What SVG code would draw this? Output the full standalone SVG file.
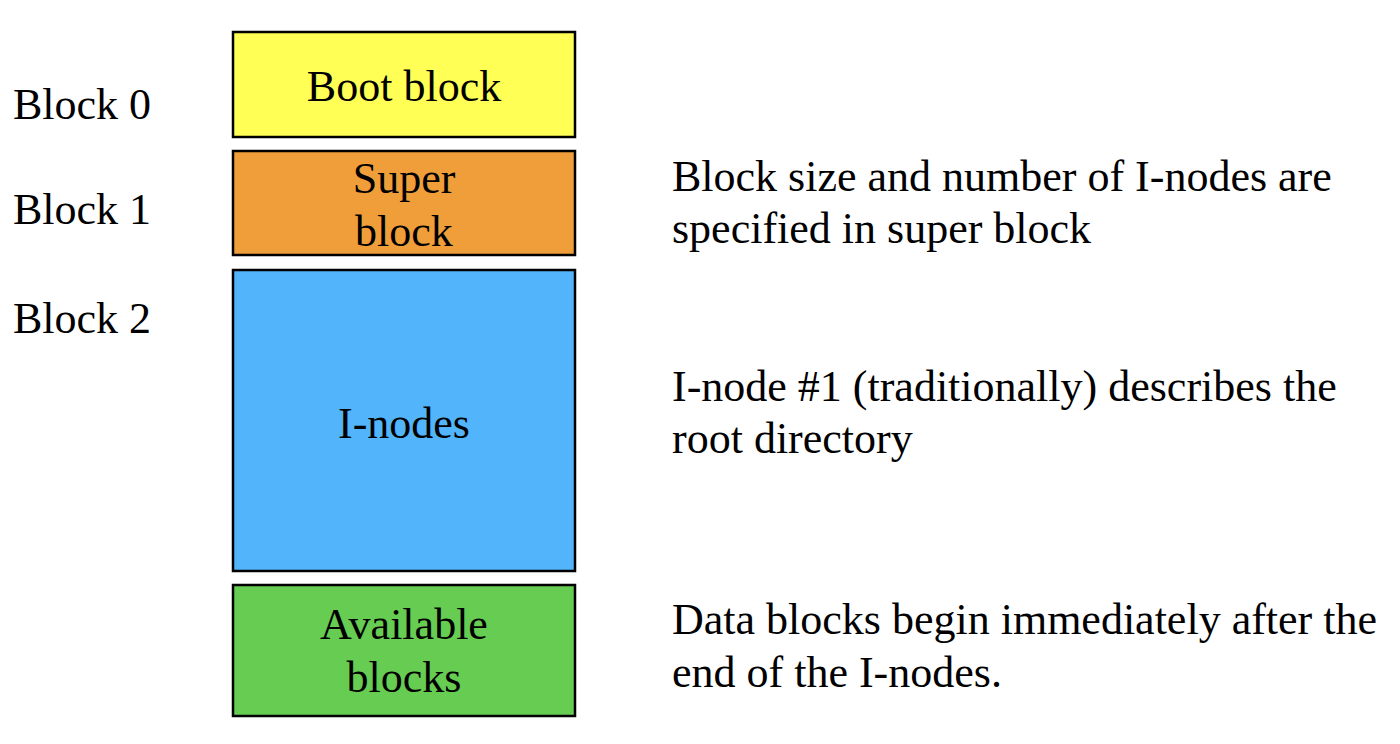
<svg xmlns="http://www.w3.org/2000/svg" width="1400" height="744" viewBox="0 0 1400 744">
<style>
text{font-family:"Liberation Serif","Times New Roman",serif;font-size:44px;fill:#000}
.box{stroke:#000;stroke-width:2.5}
.c{text-anchor:middle}
</style>
<rect width="1400" height="744" fill="#fff"/>
<g id="labels">
<text x="13" y="119">Block 0</text>
<text x="13" y="224">Block 1</text>
<text x="13" y="333">Block 2</text>
</g>
<g id="boot">
<rect class="box" x="233" y="32" width="342" height="105" fill="#FFFF55"/>
<text class="c" x="404" y="101">Boot block</text>
</g>
<g id="super">
<rect class="box" x="233" y="151" width="342" height="104" fill="#F09E3A"/>
<text class="c" x="404" y="193">Super</text>
<text class="c" x="404" y="246">block</text>
</g>
<g id="inodes">
<rect class="box" x="233" y="270" width="342" height="301" fill="#52B4FA"/>
<text class="c" x="404" y="438">I-nodes</text>
</g>
<g id="available">
<rect class="box" x="233" y="585" width="342" height="131" fill="#66CC52"/>
<text class="c" x="404" y="639">Available</text>
<text class="c" x="404" y="692">blocks</text>
</g>
<g id="notes">
<text x="672" y="191">Block size and number of I-nodes are</text>
<text x="672" y="243">specified in super block</text>
<text x="672" y="401">I-node #1 (traditionally) describes the</text>
<text x="672" y="453">root directory</text>
<text x="672" y="634">Data blocks begin immediately after the</text>
<text x="672" y="687">end of the I-nodes.</text>
</g>
<g id="connectors"/>
</svg>
